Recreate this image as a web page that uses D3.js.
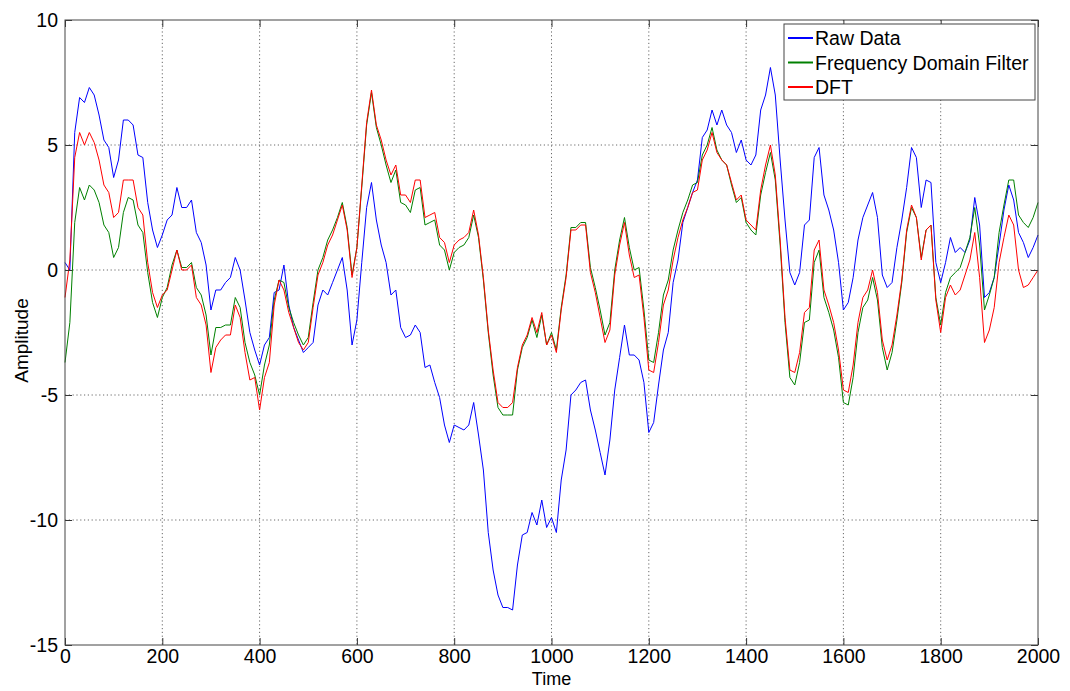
<!DOCTYPE html>
<html><head><meta charset="utf-8">
<script src="https://cdn.jsdelivr.net/npm/d3@7"></script>
<style>
body{margin:0;background:#fff;}
text{font-family:"Liberation Sans",Arial,sans-serif;}
</style></head>
<body><svg id="c" width="1070" height="691"></svg>
<script>
const timeStep = 10;
const xTicks = [0,200,400,600,800,1000,1200,1400,1600,1800,2000];
const yTicks = [-15,-10,-5,0,5,10];
const seriesNames = ["Raw Data","Frequency Domain Filter","DFT"];
const seriesColors = ["#0000ff","#008000","#ff0000"];

const rawData = [0.3,0.0,5.5,6.9,6.7,7.3,7.0,6.2,5.2,4.9,3.7,4.4,6.0,6.0,5.8,4.6,4.5,2.7,1.6,0.9,
1.4,2.0,2.2,3.3,2.5,2.5,2.8,1.5,1.1,0.2,-1.6,-0.8,-0.8,-0.5,-0.3,0.5,0.0,-1.2,-2.5,-3.2,
-3.8,-3.0,-2.7,-0.9,-0.8,0.2,-1.4,-2.3,-2.8,-3.3,-3.1,-2.9,-1.4,-0.8,-1.0,-0.5,0.0,0.5,-0.8,-3.0,
-2.0,0.3,2.5,3.5,2.0,1.0,0.3,-1.0,-0.8,-2.3,-2.7,-2.6,-2.2,-2.5,-3.9,-3.8,-4.5,-5.1,-6.2,-6.9,
-6.2,-6.3,-6.4,-6.2,-5.3,-6.6,-8.0,-10.5,-12.0,-13.0,-13.5,-13.5,-13.6,-11.8,-10.6,-10.5,-9.7,-10.2,-9.2,-10.3,
-9.9,-10.5,-8.4,-7.2,-5.0,-4.8,-4.5,-4.4,-5.6,-6.4,-7.3,-8.2,-6.8,-4.8,-3.5,-2.2,-3.4,-3.4,-3.6,-4.5,
-6.5,-6.1,-4.6,-3.2,-2.5,-0.5,0.4,1.9,2.5,3.1,3.6,5.3,5.6,6.4,5.8,6.4,5.8,5.5,4.7,5.2,
4.4,4.2,4.6,6.4,7.0,8.1,7.0,4.4,2.0,-0.1,-0.6,-0.1,1.8,2.0,4.5,4.9,3.0,2.4,1.6,0.3,
-1.6,-1.3,-0.3,1.2,2.1,2.6,3.1,2.1,-0.2,-0.7,-0.5,0.9,2.0,3.3,4.9,4.5,2.5,3.6,3.5,0.3,
-0.5,0.3,1.3,0.7,0.9,0.7,1.2,2.9,1.8,-1.1,-0.9,-0.3,1.0,2.4,3.4,2.8,1.5,1.1,0.5,0.9,1.4];

const freqFilter = [-3.7,-2.1,1.9,3.3,2.8,3.4,3.2,2.7,1.8,1.5,0.5,0.9,2.3,2.9,2.8,1.8,1.5,-0.1,-1.3,-1.9,
-1.1,-0.7,0.2,0.8,0.1,0.1,0.3,-0.7,-1.0,-1.8,-3.4,-2.3,-2.3,-2.2,-2.2,-1.1,-1.5,-2.9,-3.7,-4.2,
-5.0,-3.8,-3.0,-1.2,-0.4,-0.5,-1.5,-2.1,-2.6,-3.0,-2.7,-1.3,0.0,0.5,1.2,1.6,2.1,2.7,1.7,-0.2,
0.9,3.3,5.8,7.1,5.7,5.0,4.2,3.5,4.0,2.7,2.6,2.3,3.2,3.3,1.8,1.9,2.0,1.0,0.8,0.0,
0.7,0.9,1.0,1.3,2.2,1.3,-0.4,-2.5,-4.2,-5.5,-5.8,-5.8,-5.8,-4.0,-3.1,-2.7,-2.0,-2.7,-1.8,-3.0,
-2.5,-3.2,-1.5,-0.2,1.7,1.7,1.9,1.9,0.1,-0.7,-1.6,-2.6,-2.1,0.0,1.2,2.1,0.9,0.0,0.1,-1.6,
-3.6,-3.7,-2.5,-1.0,-0.4,0.8,1.6,2.3,2.8,3.4,3.5,4.6,5.0,5.7,4.8,4.4,4.2,3.4,2.7,2.9,
1.9,1.6,1.4,3.0,3.9,4.7,3.6,1.0,-2.1,-4.3,-4.6,-3.7,-2.1,-2.0,0.3,0.8,-1.1,-1.7,-2.4,-3.5,
-5.3,-5.4,-4.3,-2.5,-1.5,-1.2,-0.3,-1.2,-3.1,-4.0,-3.3,-2.0,-0.5,1.5,2.5,2.1,0.5,1.6,1.8,-1.1,
-2.2,-0.9,-0.3,-0.1,0.1,0.7,1.3,2.5,1.0,-1.6,-1.0,-0.3,1.5,2.6,3.6,3.6,2.2,1.9,1.7,2.1,2.7];

const dftData = [-1.1,0.4,4.5,5.5,5.0,5.5,5.1,4.4,3.4,3.1,2.1,2.3,3.6,3.6,3.6,2.5,2.2,0.3,-0.9,-1.5,
-1.0,-0.8,0.0,0.8,0.0,0.0,0.2,-1.1,-1.4,-2.2,-4.1,-3.1,-2.8,-2.6,-2.6,-1.4,-1.9,-3.3,-4.4,-4.3,
-5.6,-4.3,-3.7,-1.4,-0.4,-0.8,-1.7,-2.3,-2.9,-3.2,-2.9,-1.5,-0.2,0.3,1.0,1.4,2.0,2.6,1.6,-0.3,
0.9,3.4,5.9,7.2,5.8,5.2,4.4,3.8,4.2,3.0,3.0,2.7,3.6,3.6,2.1,2.2,2.3,1.3,1.1,0.3,
1.0,1.2,1.3,1.5,2.4,1.4,-0.3,-2.4,-4.0,-5.3,-5.5,-5.5,-5.3,-3.9,-3.0,-2.6,-1.9,-2.5,-1.7,-3.0,
-2.6,-3.3,-1.6,-0.3,1.6,1.6,1.8,1.8,-0.1,-0.9,-1.9,-2.9,-2.4,-0.2,1.0,1.9,0.6,-0.3,-0.2,-1.9,
-4.0,-4.1,-2.9,-1.4,-0.8,0.4,1.3,2.0,2.5,3.1,3.2,4.4,4.8,5.5,4.7,4.4,4.2,3.5,2.8,3.0,
2.0,1.8,1.6,3.2,4.2,5.0,3.8,1.2,-1.9,-4.0,-4.1,-3.3,-1.7,-1.5,0.8,1.2,-0.8,-1.4,-2.1,-3.2,
-4.8,-4.9,-3.8,-2.1,-1.1,-0.8,0.0,-0.9,-2.8,-3.6,-3.0,-1.8,-0.4,1.6,2.6,2.1,0.4,1.6,1.8,-1.2,
-2.5,-1.1,-0.6,-1.0,-0.8,-0.2,0.4,1.5,-0.3,-2.9,-2.4,-1.5,0.3,1.3,2.2,1.8,0.0,-0.7,-0.6,-0.3,0.0];

const svg = d3.select("#c");
const L = 65, T = 20, R = 1038, B = 645;
const FONT = "'Liberation Sans',Arial,sans-serif";
const x = d3.scaleLinear().domain([0,2000]).range([L,R]);
const y = d3.scaleLinear().domain([-15,10]).range([B,T]);

// grid
const grid = svg.append("g").attr("stroke","#444").attr("stroke-width",0.8).attr("stroke-dasharray","1.2,2.6");
xTicks.slice(1,-1).forEach(t=>grid.append("line").attr("x1",x(t)).attr("x2",x(t)).attr("y1",T).attr("y2",B));
yTicks.slice(1,-1).forEach(t=>grid.append("line").attr("x1",L).attr("x2",R).attr("y1",y(t)).attr("y2",y(t)));

// lines
const all = [rawData, freqFilter, dftData];
const line = d3.line().x((d,i)=>x(i*timeStep)).y(d=>y(d));
all.forEach((s,k)=>{
  svg.append("path").datum(s).attr("fill","none").attr("stroke",seriesColors[k])
    .attr("stroke-width",1).attr("stroke-linejoin","round").attr("d",line);
});

// axes
const fmt = d => String(d);
const xAxis = d3.axisBottom(x).tickValues(xTicks).tickFormat(fmt).tickSizeInner(-7).tickSizeOuter(0).tickPadding(3);
const yAxis = d3.axisLeft(y).tickValues(yTicks).tickFormat(fmt).tickSizeInner(-7).tickSizeOuter(0).tickPadding(7);
const xTop = d3.axisTop(x).tickValues(xTicks).tickFormat("").tickSizeInner(-7).tickSizeOuter(0);
const yRight = d3.axisRight(y).tickValues(yTicks).tickFormat("").tickSizeInner(-7).tickSizeOuter(0);
const gx = svg.append("g").attr("transform",`translate(0,${B})`).call(xAxis);
const gy = svg.append("g").attr("transform",`translate(${L},0)`).call(yAxis);
const gt = svg.append("g").attr("transform",`translate(0,${T})`).call(xTop);
const gr = svg.append("g").attr("transform",`translate(${R},0)`).call(yRight);
[gx,gy,gt,gr].forEach(g=>{
  g.select(".domain").remove();
  g.selectAll(".tick line").attr("stroke","#333");
  g.selectAll(".tick text").attr("fill","#000").style("font-size","19.5px").style("font-family",FONT);
});
gx.selectAll(".tick text").attr("dy","0.75em");
// box
svg.append("rect").attr("x",L).attr("y",T).attr("width",R-L).attr("height",B-T)
  .attr("fill","none").attr("stroke","#444").attr("stroke-width",1);

svg.append("text").attr("x",(L+R)/2).attr("y",685).attr("text-anchor","middle").style("font-size","18px").style("font-family",FONT).text("Time");
svg.append("text").attr("transform",`translate(28,${(T+B)/2+8}) rotate(-90)`).attr("text-anchor","middle").style("font-size","19px").style("font-family",FONT).text("Amplitude");

// legend
const lg = svg.append("g");
lg.append("rect").attr("x",784).attr("y",24).attr("width",251).attr("height",76).attr("fill","#fff").attr("stroke","#444");
seriesNames.forEach((n,i)=>{
  const yy = 38 + i*24.5;
  lg.append("line").attr("x1",788).attr("x2",813).attr("y1",yy).attr("y2",yy).attr("stroke",seriesColors[i]).attr("stroke-width",2);
  lg.append("text").attr("x",815).attr("y",yy).attr("dy","0.36em").style("font-size","19.5px").style("font-family",FONT).text(n);
});
</script></body></html>
